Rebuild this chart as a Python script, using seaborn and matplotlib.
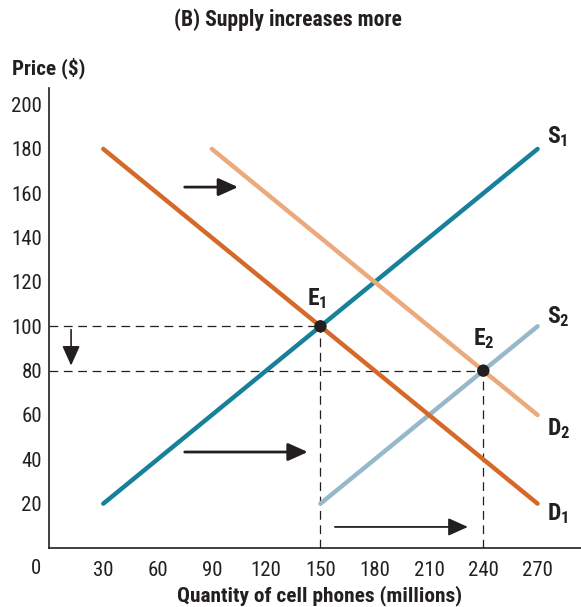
import matplotlib
matplotlib.use("Agg")
import matplotlib.pyplot as plt
from matplotlib import font_manager
import seaborn as sns
import pandas as pd

sns.set_theme(style="white")

# Pick a narrow sans family if one is installed
installed = {(f.name, f.stretch) for f in font_manager.fontManager.ttflist}
names = {n for n, _ in installed}
narrow_candidates = ["Liberation Sans Narrow", "Roboto Condensed",
                     "Open Sans Condensed", "DejaVu Sans Condensed"]
FAMILY = next((n for n in narrow_candidates if n in names), None)
STRETCH = "normal"
if FAMILY is None:
    FAMILY = "DejaVu Sans"
    if any(n == "DejaVu Sans" and s in ("condensed", "semi-condensed", 75, 87)
           for n, s in installed):
        STRETCH = "condensed"

plt.rcParams["font.family"] = [FAMILY, "DejaVu Sans"]
plt.rcParams["font.stretch"] = STRETCH
plt.rcParams["mathtext.fontset"] = "custom"
bold_pat = f"{FAMILY}:bold:stretch={STRETCH}"
plt.rcParams["mathtext.rm"] = bold_pat
plt.rcParams["mathtext.bf"] = bold_pat
plt.rcParams["mathtext.it"] = bold_pat

INK = "#231f20"

# Curves (quantity in millions, price in $)
curve_names = ["S1", "S2", "D2", "D1"]
s1_qty = [30, 270]
s1_price = [20, 180]
s2_qty = [150, 270]
s2_price = [20, 100]
d1_qty = [30, 270]
d1_price = [180, 20]
d2_qty = [90, 270]
d2_price = [180, 60]

# Equilibria
eq_names = ["E1", "E2"]
eq_qty = [150, 240]
eq_price = [100, 80]

x_ticks = [30, 60, 90, 120, 150, 180, 210, 240, 270]
y_ticks = [20, 40, 60, 80, 100, 120, 140, 160, 180, 200]

colors = {"S1": "#17809a", "S2": "#97b8cb", "D2": "#eba97c", "D1": "#d5692a"}

df = pd.concat([
    pd.DataFrame({"curve": "S1", "q": s1_qty, "p": s1_price}),
    pd.DataFrame({"curve": "S2", "q": s2_qty, "p": s2_price}),
    pd.DataFrame({"curve": "D2", "q": d2_qty, "p": d2_price}),
    pd.DataFrame({"curve": "D1", "q": d1_qty, "p": d1_price}),
], ignore_index=True)

W, H = 581, 607
fig = plt.figure(figsize=(W / 100, H / 100), dpi=100)
ax = fig.add_axes([49 / W, (H - 548) / H, (W - 49) / W, (548 - 88) / H])

# Guide lines to the equilibria
dash = dict(color=INK, lw=0.9, dashes=(7, 4.5), zorder=1)
for q, p in zip(eq_qty, eq_price):
    ax.plot([0, q], [p, p], **dash)
    ax.plot([q, q], [0, p], **dash)

for name in curve_names:
    sns.lineplot(data=df[df["curve"] == name], x="q", y="p", ax=ax,
                 color=colors[name], lw=3.2, solid_capstyle="round",
                 legend=False, zorder=2, sort=False)

sns.scatterplot(x=eq_qty, y=eq_price, ax=ax, color=INK, s=80,
                edgecolor="none", zorder=4)

TICK_FS = 15
ax.set_xlim(0, 294)
ax.set_ylim(0, 207.5)
ax.set_xticks(x_ticks)
ax.set_yticks(y_ticks)
ax.set_xticklabels([str(v) for v in x_ticks])
ax.set_yticklabels([str(v) for v in y_ticks])
ax.tick_params(axis="both", direction="in", length=6, width=1, color=INK,
               labelsize=TICK_FS, labelcolor=INK)
ax.tick_params(axis="x", pad=9)
ax.tick_params(axis="y", pad=5)
ax.set_xlabel("")
ax.set_ylabel("")
for side in ["top", "right"]:
    ax.spines[side].set_visible(False)
for side in ["left", "bottom"]:
    ax.spines[side].set_color(INK)
    ax.spines[side].set_linewidth(1.2)

ax.text(-7.2, -9.3, "0", fontsize=TICK_FS, color=INK, ha="center", va="center",
        clip_on=False)

# Curve and point labels
lab = dict(fontsize=17, color=INK, va="center", ha="left")
ax.text(275, 185.5, r"$\mathrm{S}_{\mathrm{1}}$", **lab)
ax.text(275, 104.5, r"$\mathrm{S}_{\mathrm{2}}$", **lab)
ax.text(275, 54, r"$\mathrm{D}_{\mathrm{2}}$", **lab)
ax.text(275, 15.5, r"$\mathrm{D}_{\mathrm{1}}$", **lab)
ax.text(142.5, 112.5, r"$\mathrm{E}_{\mathrm{1}}$", **lab)
ax.text(234.5, 94.5, r"$\mathrm{E}_{\mathrm{2}}$", **lab)

# Shift arrows
def arrow(x0, y0, x1, y1, lw, head):
    ax.annotate("", xy=(x1, y1), xytext=(x0, y0),
                arrowprops=dict(arrowstyle=f"-|>,head_length={head},head_width={head*0.45}",
                                color=INK, lw=lw, shrinkA=0, shrinkB=0),
                zorder=3)

arrow(75, 162.8, 104.5, 162.8, 2.0, 1.0)
arrow(75, 43.3, 143, 43.3, 2.0, 1.0)
arrow(158, 9.5, 231.5, 9.5, 1.3, 1.0)
arrow(12.2, 98.5, 12.2, 82.3, 1.2, 1.0)

fig.text(288 / W, 1 - 20 / H, "(B) Supply increases more", fontsize=15.6,
         fontweight="bold", color=INK, ha="center", va="center")
fig.text(12 / W, 1 - 68 / H, "Price ($)", fontsize=15.2, fontweight="bold",
         color=INK, ha="left", va="center")
fig.text(320 / W, 1 - 596 / H, "Quantity of cell phones (millions)", fontsize=15.4,
         fontweight="bold", color=INK, ha="center", va="center")

fig.savefig("out.png", dpi=100)
